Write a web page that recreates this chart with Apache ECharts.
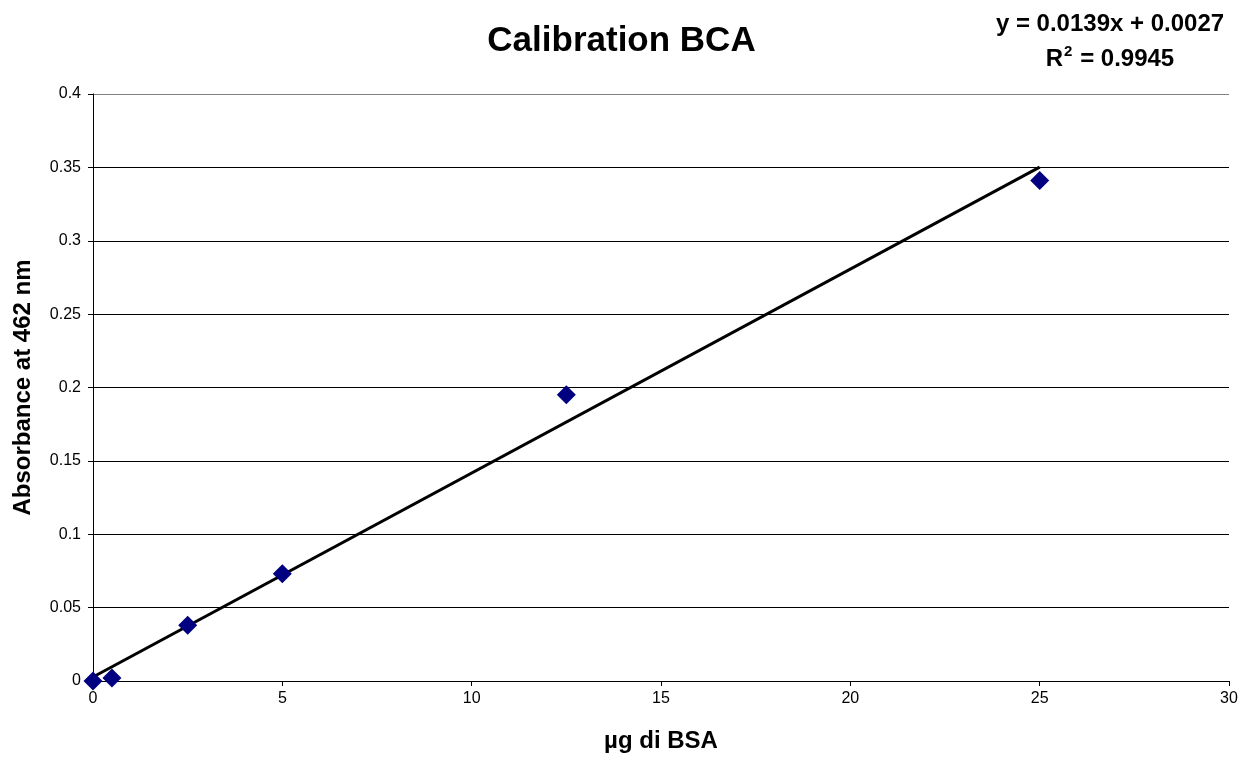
<!DOCTYPE html>
<html>
<head>
<meta charset="utf-8">
<script src="https://cdn.jsdelivr.net/npm/echarts@6/dist/echarts.min.js"></script>
<style>
  html, body { margin: 0; padding: 0; background: #fff; }
  #chart { width: 1243px; height: 760px; }
</style>
</head>
<body>
<div id="chart"></div>
<script>
// BSA standards (µg) and measured absorbance at 462 nm
const bsaAmounts = [0, 0.5, 2.5, 5, 12.5, 25];
const absorbance = [0, 0.002, 0.038, 0.073, 0.195, 0.341];

// Linear fit reported on the chart
const fitSlope = 0.0139;
const fitIntercept = 0.0027;
const fitR2 = 0.9945;
const fitRange = [0, 25];

const yTicks = [0, 0.05, 0.1, 0.15, 0.2, 0.25, 0.3, 0.35, 0.4];
const xTicks = [0, 5, 10, 15, 20, 25, 30];

const points = bsaAmounts.map((x, i) => [x, absorbance[i]]);
const fitLine = fitRange.map(x => [x, fitSlope * x + fitIntercept]);

const font = '"Liberation Sans", Arial, sans-serif';

const chart = echarts.init(document.getElementById('chart'));
chart.setOption({
  animation: false,
  backgroundColor: '#ffffff',
  textStyle: { fontFamily: font },
  graphic: [
    {
      type: 'text', left: 'center', top: 24,
      style: {
        text: 'Calibration BCA',
        font: 'bold 35px ' + font, fill: '#000'
      }
    },
    {
      type: 'text', x: 1110, y: 24,
      style: {
        text: 'y = ' + fitSlope + 'x + ' + fitIntercept,
        font: 'bold 24px ' + font, fill: '#000',
        align: 'center', verticalAlign: 'middle'
      }
    },
    {
      type: 'text', x: 1110, y: 58,
      style: {
        text: '{r|R}{sup|2}{r| = ' + fitR2 + '}',
        font: 'bold 24px ' + font, fill: '#000',
        align: 'center', verticalAlign: 'middle',
        rich: {
          r: { font: 'bold 24px ' + font, fill: '#000', verticalAlign: 'bottom' },
          sup: { font: 'bold 15px ' + font, fill: '#000', verticalAlign: 'top', padding: [0, 1, 12, 1] }
        }
      }
    }
  ],
  grid: { left: 93, right: 14, top: 94, bottom: 79, containLabel: false },
  xAxis: {
    type: 'value',
    min: xTicks[0], max: xTicks[xTicks.length - 1], interval: 5,
    name: 'µg di BSA',
    nameLocation: 'middle', nameGap: 48,
    nameTextStyle: { fontSize: 24, fontWeight: 'bold', color: '#000', fontFamily: font },
    axisLine: { lineStyle: { color: '#000', width: 1 } },
    axisTick: { show: true, length: 5, lineStyle: { color: '#000' } },
    axisLabel: { fontSize: 16, color: '#000', margin: 10, fontFamily: font },
    splitLine: { show: false }
  },
  yAxis: {
    type: 'value',
    min: yTicks[0], max: yTicks[yTicks.length - 1], interval: 0.05,
    name: 'Absorbance at 462 nm',
    nameLocation: 'middle', nameGap: 58,
    nameTextStyle: { fontSize: 24, fontWeight: 'bold', color: '#000', fontFamily: font },
    axisLine: { show: true, lineStyle: { color: '#000', width: 1 } },
    axisTick: { show: true, length: 5, lineStyle: { color: '#000' } },
    axisLabel: { fontSize: 16, color: '#000', margin: 12, fontFamily: font },
    splitLine: {
      show: true,
      lineStyle: {
        color: yTicks.map((v, i) => i === yTicks.length - 1 ? '#808080' : '#000'),
        width: 1
      }
    }
  },
  series: [
    {
      name: 'Trendline',
      type: 'line',
      data: fitLine,
      showSymbol: false,
      symbol: 'none',
      lineStyle: { color: '#000', width: 3 },
      z: 2
    },
    {
      name: 'Standards',
      type: 'scatter',
      data: points,
      symbol: 'diamond',
      symbolSize: 19,
      itemStyle: { color: '#000080', opacity: 1 },
      z: 3
    }
  ]
});
</script>
</body>
</html>
